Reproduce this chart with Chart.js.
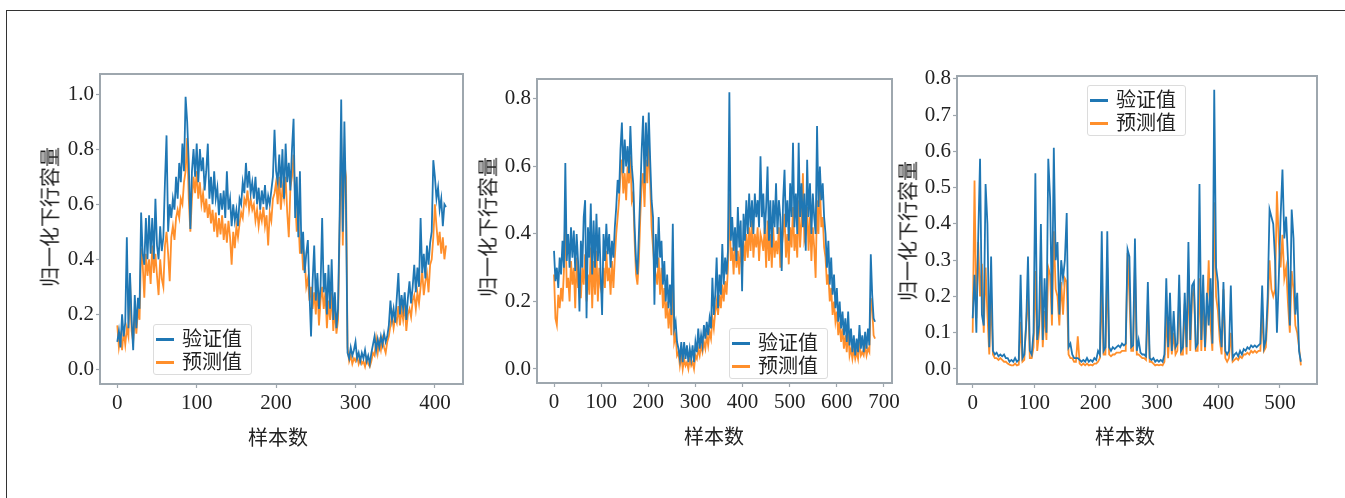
<!DOCTYPE html>
<html>
<head>
<meta charset="utf-8">
<script src="https://cdn.jsdelivr.net/npm/chart.js@4.4.1/dist/chart.umd.min.js"></script>
<style>
  html, body { margin: 0; padding: 0; background: #fff; }
  body { width: 1345px; height: 498px; position: relative; overflow: hidden; }
  #frame { position: absolute; left: 6px; top: 10px; width: 1345px; height: 500px;
           border-top: 1px solid #333; border-left: 1px solid #333; }
  canvas { position: absolute; }
  .lbl { position: absolute; font-family: "Noto Sans CJK SC", sans-serif; font-size: 20px;
         color: #222; white-space: nowrap; transform: translate(-50%, -50%); }
  .lbl.rot { transform: translate(-50%, -50%) rotate(-90deg); }
  .legend { position: absolute; box-sizing: border-box; border: 1px solid #dcdcdc; border-radius: 3px;
            background: rgba(255,255,255,0.85); }
  .legend .row { position: absolute; left: 0; height: 22px; }
  .legend .sw { position: absolute; left: 2px; top: 10px; width: 18px; height: 2.5px; }
  .legend .tx { position: absolute; left: 28px; top: -2px; font-family: "Noto Sans CJK SC", sans-serif;
                font-size: 20px; line-height: 24px; color: #222; white-space: nowrap; }
</style>
</head>
<body>
<div id="frame"></div>
<canvas id="c1" width="480" height="430" style="left:0px;top:40px"></canvas>
<canvas id="c2" width="460" height="430" style="left:460px;top:40px"></canvas>
<canvas id="c3" width="465" height="430" style="left:880px;top:40px"></canvas>

<script>
// 图例名称
const seriesLabels = ["验证值", "预测值"];
const xTitle = "样本数";
const yTitle = "归一化下行容量";

// 子图1：每2个样本取一个点
const step1 = 2;
const xTicks1 = [0, 100, 200, 300, 400];
const yTicks1 = [0.0, 0.2, 0.4, 0.6, 0.8, 1.0];
const actual1 = [
  0.10, 0.14, 0.08, 0.20, 0.12, 0.17, 0.48, 0.15, 0.35, 0.18,
  0.07, 0.27, 0.15, 0.26, 0.22, 0.57, 0.42, 0.38, 0.55, 0.40,
  0.56, 0.42, 0.55, 0.40, 0.62, 0.45, 0.40, 0.52, 0.43, 0.48,
  0.68, 0.85, 0.50, 0.60, 0.55, 0.62, 0.58, 0.70, 0.62, 0.75,
  0.68, 0.82, 0.72, 0.99, 0.90, 0.75, 0.51, 0.72, 0.80, 0.70,
  0.82, 0.68, 0.80, 0.72, 0.77, 0.65, 0.72, 0.82, 0.62, 0.70,
  0.60, 0.72, 0.62, 0.66, 0.56, 0.64, 0.58, 0.65, 0.55, 0.72,
  0.58, 0.62, 0.52, 0.60, 0.54, 0.58, 0.52, 0.62, 0.60, 0.68,
  0.64, 0.75, 0.66, 0.72, 0.64, 0.68, 0.62, 0.70, 0.60, 0.66,
  0.58, 0.65, 0.60, 0.67, 0.58, 0.63, 0.60, 0.65, 0.70, 0.87,
  0.72, 0.68, 0.78, 0.66, 0.80, 0.62, 0.82, 0.68, 0.75, 0.65,
  0.80, 0.91, 0.55, 0.70, 0.48, 0.72, 0.42, 0.50, 0.35, 0.42,
  0.47, 0.28, 0.12, 0.32, 0.45, 0.25, 0.35, 0.22, 0.30, 0.55,
  0.28, 0.35, 0.20, 0.38, 0.22, 0.40, 0.18, 0.28, 0.15, 0.22,
  0.55, 0.98, 0.50, 0.90, 0.60, 0.06, 0.04, 0.08, 0.05, 0.07,
  0.10, 0.04, 0.06, 0.03, 0.06, 0.04, 0.07, 0.03, 0.05, 0.02,
  0.06, 0.09, 0.12, 0.07, 0.11, 0.08, 0.12, 0.09, 0.13, 0.10,
  0.12, 0.16, 0.25, 0.18, 0.22, 0.17, 0.26, 0.35, 0.20, 0.27,
  0.22, 0.28, 0.18, 0.26, 0.32, 0.24, 0.30, 0.38, 0.28, 0.37,
  0.30, 0.55, 0.35, 0.42, 0.33, 0.45, 0.38, 0.46, 0.50, 0.76,
  0.70, 0.62, 0.66, 0.58, 0.62, 0.52, 0.60, 0.59
];
const pred1 = [
  0.16, 0.08, 0.12, 0.07, 0.14, 0.09, 0.15, 0.12, 0.33, 0.14,
  0.10, 0.20, 0.13, 0.22, 0.18, 0.44, 0.38, 0.26, 0.42, 0.34,
  0.40, 0.31, 0.45, 0.35, 0.42, 0.34, 0.27, 0.40, 0.33, 0.30,
  0.45, 0.50, 0.42, 0.32, 0.48, 0.52, 0.47, 0.55, 0.58, 0.55,
  0.62, 0.60, 0.68, 0.72, 0.84, 0.62, 0.50, 0.62, 0.70, 0.64,
  0.72, 0.62, 0.68, 0.60, 0.64, 0.57, 0.62, 0.55, 0.60, 0.53,
  0.58, 0.50, 0.57, 0.48, 0.55, 0.49, 0.56, 0.47, 0.53, 0.46,
  0.54, 0.48, 0.38, 0.50, 0.44, 0.52, 0.48, 0.53, 0.57, 0.55,
  0.62, 0.60, 0.65, 0.58, 0.62, 0.58, 0.60, 0.54, 0.58, 0.52,
  0.57, 0.54, 0.59, 0.52, 0.56, 0.45, 0.57, 0.54, 0.62, 0.64,
  0.68, 0.60, 0.70, 0.58, 0.66, 0.62, 0.70, 0.57, 0.48, 0.66,
  0.70, 0.78, 0.62, 0.50, 0.55, 0.42, 0.48, 0.36, 0.40, 0.30,
  0.33, 0.25, 0.30, 0.22, 0.28, 0.20, 0.30, 0.16, 0.25, 0.30,
  0.22, 0.28, 0.15, 0.25, 0.18, 0.28, 0.14, 0.22, 0.13, 0.18,
  0.50, 0.84, 0.45, 0.75, 0.70, 0.08, 0.03, 0.05, 0.02, 0.04,
  0.03, 0.05, 0.02, 0.04, 0.02, 0.03, 0.01, 0.04, 0.02, 0.01,
  0.03, 0.06, 0.05, 0.11, 0.06, 0.10, 0.07, 0.11, 0.08, 0.06,
  0.10, 0.12, 0.16, 0.20, 0.15, 0.19, 0.17, 0.23, 0.16, 0.22,
  0.18, 0.24, 0.14, 0.20, 0.22, 0.19, 0.25, 0.27, 0.22, 0.28,
  0.24, 0.30, 0.36, 0.27, 0.32, 0.35, 0.28, 0.38, 0.40, 0.48,
  0.60, 0.52, 0.45, 0.50, 0.42, 0.48, 0.40, 0.45
];

// 子图2：每3个样本取一个点
const step2 = 3;
const xTicks2 = [0, 100, 200, 300, 400, 500, 600, 700];
const yTicks2 = [0.0, 0.2, 0.4, 0.6, 0.8];
const actual2 = [
  0.35, 0.26, 0.30, 0.24, 0.33, 0.28, 0.38, 0.30, 0.61, 0.32,
  0.40, 0.30, 0.42, 0.33, 0.41, 0.29, 0.40, 0.32, 0.17, 0.38,
  0.30, 0.45, 0.50, 0.15, 0.42, 0.33, 0.49, 0.28, 0.44, 0.30,
  0.46, 0.32, 0.42, 0.28, 0.16, 0.40, 0.32, 0.43, 0.34, 0.40,
  0.30, 0.38, 0.33, 0.42, 0.48, 0.56, 0.52, 0.65, 0.73, 0.58,
  0.68, 0.60, 0.66, 0.58, 0.72, 0.60, 0.55, 0.42, 0.32, 0.28,
  0.40, 0.52, 0.65, 0.75, 0.55, 0.73, 0.60, 0.76, 0.62, 0.50,
  0.45, 0.19, 0.40, 0.30, 0.45, 0.33, 0.38, 0.25, 0.32, 0.20,
  0.28, 0.18, 0.25, 0.16, 0.43, 0.12, 0.14, 0.08, 0.06, 0.03,
  0.08, 0.02, 0.08, 0.03, 0.07, 0.02, 0.06, 0.03, 0.07, 0.02,
  0.08, 0.05, 0.12, 0.06, 0.10, 0.07, 0.13, 0.09, 0.14, 0.10,
  0.15, 0.12, 0.27, 0.16, 0.22, 0.33, 0.18, 0.28, 0.22, 0.37,
  0.25, 0.33, 0.28, 0.35, 0.82, 0.38, 0.45, 0.35, 0.42, 0.32,
  0.48, 0.36, 0.44, 0.23, 0.46, 0.38, 0.50, 0.40, 0.52, 0.42,
  0.50, 0.40, 0.52, 0.45, 0.50, 0.42, 0.63, 0.45, 0.52, 0.40,
  0.48, 0.60, 0.38, 0.50, 0.36, 0.50, 0.42, 0.55, 0.40, 0.50,
  0.45, 0.29, 0.50, 0.59, 0.42, 0.50, 0.38, 0.55, 0.45, 0.67,
  0.42, 0.52, 0.40, 0.67, 0.45, 0.55, 0.42, 0.52, 0.35, 0.62,
  0.45, 0.55, 0.40, 0.52, 0.45, 0.40, 0.72, 0.48, 0.60, 0.50,
  0.55, 0.45, 0.40, 0.30, 0.38, 0.25, 0.33, 0.22, 0.28, 0.18,
  0.24, 0.14, 0.20, 0.12, 0.17, 0.10, 0.15, 0.08, 0.17, 0.07,
  0.12, 0.05, 0.10, 0.04, 0.09, 0.05, 0.13, 0.06, 0.10, 0.05,
  0.11, 0.06, 0.12, 0.07, 0.34, 0.22, 0.15, 0.14
];
const pred2 = [
  0.28, 0.15, 0.13, 0.22, 0.18, 0.24, 0.20, 0.29, 0.46, 0.24,
  0.27, 0.20, 0.32, 0.25, 0.30, 0.18, 0.33, 0.24, 0.28, 0.21,
  0.30, 0.25, 0.34, 0.20, 0.28, 0.22, 0.36, 0.18, 0.32, 0.22,
  0.35, 0.20, 0.30, 0.24, 0.22, 0.30, 0.24, 0.35, 0.26, 0.30,
  0.22, 0.32, 0.24, 0.33, 0.40, 0.45, 0.50, 0.58, 0.62, 0.52,
  0.58, 0.50, 0.60, 0.55, 0.63, 0.50, 0.52, 0.38, 0.28, 0.25,
  0.32, 0.45, 0.55, 0.58, 0.48, 0.62, 0.55, 0.68, 0.55, 0.42,
  0.36, 0.30, 0.28, 0.25, 0.33, 0.22, 0.30, 0.18, 0.24, 0.15,
  0.20, 0.12, 0.18, 0.10, 0.30, 0.08, 0.10, 0.04, 0.05, 0.01,
  0.04, 0.00, 0.03, 0.01, 0.02, 0.00, 0.03, 0.01, 0.02, 0.00,
  0.04, 0.03, 0.06, 0.04, 0.07, 0.05, 0.08, 0.06, 0.10, 0.07,
  0.11, 0.09, 0.15, 0.12, 0.17, 0.20, 0.16, 0.22, 0.18, 0.25,
  0.20, 0.26, 0.22, 0.30, 0.52, 0.32, 0.36, 0.28, 0.38, 0.30,
  0.35, 0.28, 0.37, 0.30, 0.38, 0.32, 0.40, 0.33, 0.42, 0.35,
  0.44, 0.33, 0.40, 0.36, 0.42, 0.32, 0.40, 0.38, 0.35, 0.42,
  0.30, 0.44, 0.32, 0.40, 0.30, 0.42, 0.33, 0.38, 0.34, 0.42,
  0.30, 0.36, 0.40, 0.46, 0.33, 0.40, 0.31, 0.42, 0.36, 0.48,
  0.35, 0.40, 0.33, 0.50, 0.36, 0.44, 0.58, 0.38, 0.40, 0.48,
  0.35, 0.45, 0.32, 0.42, 0.36, 0.27, 0.50, 0.40, 0.55, 0.42,
  0.45, 0.36, 0.33, 0.25, 0.28, 0.20, 0.24, 0.16, 0.20, 0.14,
  0.17, 0.10, 0.14, 0.08, 0.12, 0.06, 0.10, 0.05, 0.12, 0.04,
  0.06, 0.03, 0.06, 0.03, 0.05, 0.03, 0.08, 0.04, 0.05, 0.04,
  0.07, 0.04, 0.06, 0.05, 0.21, 0.18, 0.10, 0.09
];

// 子图3：每3个样本取一个点
const step3 = 3;
const xTicks3 = [0, 100, 200, 300, 400, 500];
const yTicks3 = [0.0, 0.1, 0.2, 0.3, 0.4, 0.5, 0.6, 0.7, 0.8];
const actual3 = [
  0.14, 0.26, 0.10, 0.36, 0.58, 0.15, 0.12, 0.51, 0.40, 0.06,
  0.31, 0.05, 0.04, 0.045, 0.035, 0.04, 0.035, 0.04, 0.03, 0.03,
  0.02, 0.025, 0.02, 0.03, 0.02, 0.025, 0.26, 0.03, 0.04, 0.12,
  0.31, 0.05, 0.04, 0.10, 0.54, 0.08, 0.12, 0.40, 0.08, 0.25,
  0.10, 0.58, 0.47, 0.15, 0.61, 0.30, 0.35, 0.15, 0.30, 0.25,
  0.30, 0.43, 0.06, 0.07, 0.04, 0.03, 0.03, 0.03, 0.025, 0.02,
  0.025, 0.02, 0.03, 0.02, 0.025, 0.02, 0.03, 0.025, 0.05, 0.04,
  0.38, 0.05, 0.06, 0.38, 0.06, 0.05, 0.06, 0.055, 0.06, 0.065,
  0.06, 0.07, 0.065, 0.07, 0.33, 0.31, 0.06, 0.065, 0.36, 0.05,
  0.08, 0.045, 0.04, 0.04, 0.035, 0.24, 0.03, 0.025, 0.03, 0.02,
  0.025, 0.02, 0.025, 0.02, 0.04, 0.25, 0.06, 0.21, 0.05, 0.16,
  0.06, 0.07, 0.26, 0.05, 0.06, 0.21, 0.06, 0.35, 0.08, 0.23,
  0.24, 0.06, 0.07, 0.51, 0.08, 0.26, 0.06, 0.21, 0.12, 0.25,
  0.07, 0.77, 0.28, 0.24, 0.12, 0.06, 0.24, 0.05, 0.04, 0.05,
  0.23, 0.03, 0.04, 0.045, 0.035, 0.05, 0.04, 0.055, 0.05, 0.06,
  0.055, 0.065, 0.06, 0.065, 0.06, 0.065, 0.07, 0.23, 0.06, 0.08,
  0.20, 0.44, 0.42, 0.40, 0.30, 0.10, 0.25, 0.42, 0.55, 0.36,
  0.42, 0.30, 0.12, 0.44, 0.36, 0.15, 0.21, 0.05, 0.02
];
const pred3 = [
  0.10, 0.52, 0.14, 0.35, 0.20, 0.29, 0.10, 0.28, 0.15, 0.04,
  0.20, 0.04, 0.03, 0.03, 0.025, 0.03, 0.025, 0.02, 0.02, 0.015,
  0.012, 0.01, 0.01, 0.015, 0.01, 0.012, 0.13, 0.02, 0.025, 0.13,
  0.20, 0.03, 0.03, 0.06, 0.27, 0.05, 0.10, 0.25, 0.06, 0.16,
  0.08, 0.28, 0.26, 0.12, 0.38, 0.22, 0.20, 0.12, 0.24, 0.15,
  0.25, 0.24, 0.04, 0.03, 0.03, 0.02, 0.02, 0.09, 0.015, 0.01,
  0.015, 0.01, 0.015, 0.01, 0.012, 0.01, 0.015, 0.015, 0.02, 0.03,
  0.22, 0.04, 0.04, 0.28, 0.04, 0.035, 0.04, 0.04, 0.045, 0.045,
  0.045, 0.05, 0.05, 0.05, 0.32, 0.20, 0.05, 0.05, 0.29, 0.04,
  0.04, 0.035, 0.03, 0.03, 0.025, 0.18, 0.02, 0.02, 0.015, 0.01,
  0.012, 0.01, 0.012, 0.01, 0.02, 0.15, 0.03, 0.13, 0.04, 0.10,
  0.04, 0.05, 0.20, 0.04, 0.04, 0.18, 0.04, 0.26, 0.05, 0.20,
  0.22, 0.05, 0.05, 0.25, 0.05, 0.20, 0.05, 0.15, 0.30, 0.12,
  0.05, 0.46, 0.20, 0.16, 0.08, 0.04, 0.22, 0.03, 0.02, 0.03,
  0.10, 0.02, 0.025, 0.03, 0.025, 0.035, 0.03, 0.04, 0.04, 0.045,
  0.04, 0.05, 0.045, 0.05, 0.045, 0.05, 0.05, 0.15, 0.05, 0.06,
  0.16, 0.30, 0.22, 0.20, 0.22, 0.49, 0.35, 0.28, 0.37, 0.25,
  0.28, 0.18, 0.10, 0.27, 0.22, 0.12, 0.10, 0.06, 0.01
];

const blue = "#1f77b4";
const orange = "rgba(255,127,14,0.88)";
const axisGray = "#9ea7ae";

function toPoints(arr, step) {
  return arr.map((v, i) => ({ x: i * step, y: v }));
}

// 画坐标框
const framePlugin = {
  id: "frameBox",
  afterDraw(chart) {
    const a = chart.chartArea, ctx = chart.ctx;
    ctx.save();
    ctx.strokeStyle = axisGray;
    ctx.lineWidth = 2;
    ctx.strokeRect(a.left, a.top, a.right - a.left, a.bottom - a.top);
    ctx.restore();
  }
};

function makeChart(cfg) {
  const canvas = document.getElementById(cfg.id);
  const cx = parseFloat(canvas.style.left), cy = parseFloat(canvas.style.top);
  const box = cfg.box;
  const tickFont = { family: "'Liberation Serif', 'Times New Roman', serif", size: 21 };

  new Chart(canvas.getContext("2d"), {
    type: "line",
    data: {
      datasets: [
        { label: seriesLabels[0], data: toPoints(cfg.actual, cfg.step), borderColor: blue, borderWidth: 1.8 },
        { label: seriesLabels[1], data: toPoints(cfg.pred, cfg.step), borderColor: orange, borderWidth: 1.8 }
      ]
    },
    options: {
      responsive: false,
      animation: false,
      parsing: false,
      elements: { point: { radius: 0 }, line: { tension: 0 } },
      layout: { padding: { left: 0, top: box.top - cy, right: cx + canvas.width - box.right, bottom: 0 } },
      plugins: { legend: { display: false }, tooltip: { enabled: false } },
      scales: {
        x: {
          type: "linear",
          min: cfg.xMin, max: cfg.xMax,
          afterFit: s => { s.height = cy + canvas.height - box.bottom; },
          afterBuildTicks: s => { s.ticks = cfg.xTicks.map(v => ({ value: v })); },
          border: { display: false },
          grid: { drawOnChartArea: false, drawTicks: true, tickLength: 4, tickColor: axisGray, tickWidth: 1.2 },
          ticks: { font: tickFont, color: "#222", padding: 3, maxRotation: 0, autoSkip: false,
                   callback: v => String(v) }
        },
        y: {
          type: "linear",
          min: cfg.yMin, max: cfg.yMax,
          afterFit: s => { s.width = box.left - cx; },
          afterBuildTicks: s => { s.ticks = cfg.yTicks.map(v => ({ value: v })); },
          border: { display: false },
          grid: { drawOnChartArea: false, drawTicks: true, tickLength: 4, tickColor: axisGray, tickWidth: 1.2 },
          ticks: { font: tickFont, color: "#222", padding: 2, autoSkip: false,
                   callback: v => v.toFixed(1) }
        }
      }
    },
    plugins: [framePlugin]
  });

  // 坐标轴标题
  addLabel(xTitle, cfg.xTitlePos, false);
  addLabel(yTitle, cfg.yTitlePos, true);

  // 图例
  const lg = document.createElement("div");
  lg.className = "legend";
  lg.style.left = cfg.legend.left + "px";
  lg.style.top = cfg.legend.top + "px";
  lg.style.width = "99px";
  lg.style.height = "51px";
  [blue, orange].forEach((col, i) => {
    const row = document.createElement("div");
    row.className = "row";
    row.style.top = (3 + i * 23) + "px";
    row.innerHTML = '<div class="sw" style="background:' + col + '"></div><div class="tx">' + seriesLabels[i] + "</div>";
    lg.appendChild(row);
  });
  document.body.appendChild(lg);
}

function addLabel(text, pos, rotated) {
  const d = document.createElement("div");
  d.className = "lbl" + (rotated ? " rot" : "");
  d.textContent = text;
  d.style.left = pos[0] + "px";
  d.style.top = pos[1] + "px";
  document.body.appendChild(d);
}

makeChart({
  id: "c1", actual: actual1, pred: pred1, step: step1,
  xTicks: xTicks1, yTicks: yTicks1,
  xMin: -21.8, xMax: 435.4, yMin: -0.053, yMax: 1.073,
  box: { left: 100, top: 74, right: 463, bottom: 384 },
  xTitlePos: [278, 436], yTitlePos: [49, 217],
  legend: { left: 153, top: 324 }
});

makeChart({
  id: "c2", actual: actual2, pred: pred2, step: step2,
  xTicks: xTicks2, yTicks: yTicks2,
  xMin: -36.1, xMax: 717.0, yMin: -0.0415, yMax: 0.859,
  box: { left: 537, top: 79, right: 892, bottom: 383 },
  xTitlePos: [714, 435], yTitlePos: [487, 227],
  legend: { left: 729, top: 328 }
});

makeChart({
  id: "c3", actual: actual3, pred: pred3, step: step3,
  xTicks: xTicks3, yTicks: yTicks3,
  xMin: -25.5, xMax: 560.2, yMin: -0.0414, yMax: 0.808,
  box: { left: 957, top: 76, right: 1317, bottom: 384 },
  xTitlePos: [1125, 435], yTitlePos: [907, 231],
  legend: { left: 1087, top: 85 }
});
</script>
</body>
</html>
